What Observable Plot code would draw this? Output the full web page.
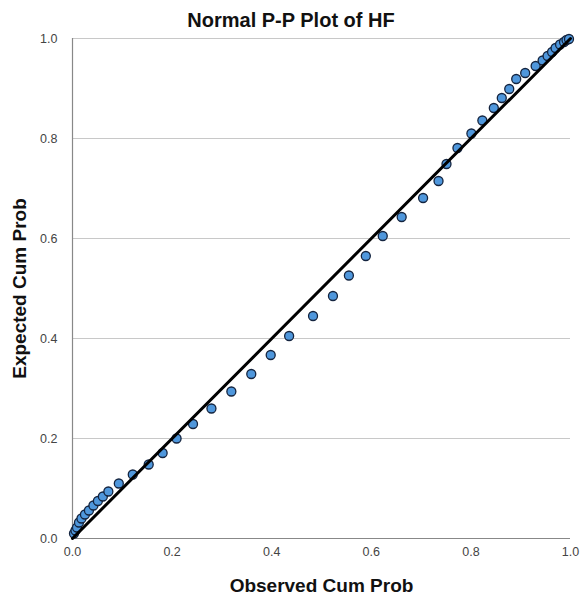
<!DOCTYPE html>
<html>
<head>
<meta charset="utf-8">
<script src="https://cdn.jsdelivr.net/npm/d3@7"></script>
<script src="https://cdn.jsdelivr.net/npm/@observablehq/plot@0.6"></script>
<style>
  html, body { margin: 0; padding: 0; background: #fff; }
  #title { width: 582px; height: 30px; text-align: center; font-family: "Liberation Sans", Arial, sans-serif; font-weight: bold; font-size: 20px; line-height: 40px; color: #111; box-sizing: border-box; }
  #chart svg [aria-label="x-axis label"] text, #chart svg [aria-label="y-axis label"] text { font-weight: bold; font-size: 19px; fill: #111; }
</style>
</head>
<body>
<div id="title">Normal P-P Plot of HF</div>
<div id="chart"></div>
<script>
const observed = [0.003,0.006,0.009,0.013,0.018,0.025,0.033,0.042,0.051,0.061,0.072,0.093,0.121,0.153,0.181,0.209,0.242,0.279,0.319,0.359,0.398,0.435,0.483,0.523,0.555,0.589,0.623,0.661,0.704,0.735,0.751,0.773,0.801,0.823,0.846,0.862,0.877,0.891,0.909,0.930,0.944,0.954,0.963,0.970,0.979,0.987,0.992,0.997];
const expected = [0.010,0.016,0.022,0.032,0.040,0.048,0.056,0.066,0.075,0.084,0.094,0.110,0.128,0.148,0.171,0.200,0.229,0.260,0.294,0.329,0.367,0.405,0.445,0.485,0.526,0.565,0.605,0.643,0.681,0.715,0.749,0.781,0.810,0.836,0.861,0.881,0.899,0.919,0.931,0.945,0.956,0.965,0.973,0.981,0.988,0.993,0.997,0.999];
const ticks = [0, 0.2, 0.4, 0.6, 0.8, 1.0];
const refLine = [0, 1];

const points = observed.map((o, i) => ({observed: o, expected: expected[i]}));
const fmt = d3.format(".1f");

const chart = Plot.plot({
  width: 582,
  height: 568,
  marginTop: 8,
  marginBottom: 60,
  marginLeft: 72,
  marginRight: 12,
  style: {fontFamily: "'Liberation Sans', Arial, sans-serif", fontSize: "12.5px", color: "#444", background: "#fff"},
  x: {domain: [0, 1]},
  y: {domain: [0, 1]},
  marks: [
    Plot.gridY(ticks.slice(1), {stroke: "#c8c8c8", strokeOpacity: 1, strokeWidth: 1}),
    Plot.axisX(ticks, {tickFormat: fmt, tickSize: 0, tickPadding: 9, label: "Observed Cum Prob", labelAnchor: "center", labelArrow: "none", labelOffset: 53, fill: "#444"}),
    Plot.axisY(ticks, {tickFormat: fmt, tickSize: 0, tickPadding: 15, label: "Expected Cum Prob", labelAnchor: "center", labelArrow: "none", labelOffset: 60, fill: "#444"}),
    Plot.ruleX([0], {stroke: "#888", strokeWidth: 1.2}),
    Plot.ruleY([0], {stroke: "#888", strokeWidth: 1.2}),
    Plot.dot(points, {x: "observed", y: "expected", r: 4.5, fill: "#4f97dc", stroke: "#14243f", strokeWidth: 1.3}),
    Plot.line(refLine, {x: d => d, y: d => d, stroke: "#000", strokeWidth: 3})
  ]
});
document.getElementById("chart").appendChild(chart);
</script>
</body>
</html>
